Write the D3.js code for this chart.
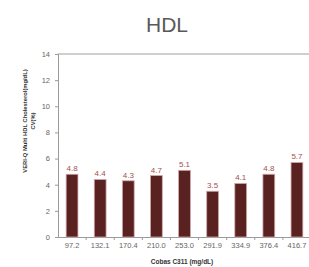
<!DOCTYPE html>
<html>
<head>
<meta charset="utf-8">
<script src="https://cdn.jsdelivr.net/npm/d3@7"></script>
<style>
  body { margin: 0; background: #fff; }
  svg { display: block; font-family: "Liberation Sans", Arial, sans-serif; }
</style>
</head>
<body>
<svg id="chart" width="309" height="267"></svg>
<script>
const categories = ['97.2', '132.1', '170.4', '210.0', '253.0', '291.9', '334.9', '376.4', '416.7']
const cvValues = [4.8, 4.4, 4.3, 4.7, 5.1, 3.5, 4.1, 4.8, 5.7]
const yTicks = [0, 2, 4, 6, 8, 10, 12, 14]

const svg = d3.select('#chart')
const margin = {top: 54, right: -2, bottom: 30, left: 58}
const width = +svg.attr('width')
const height = +svg.attr('height')

const x = d3.scaleBand()
  .domain(categories)
  .range([margin.left, width - margin.right])
  .paddingInner(0.58)
  .paddingOuter(0.29)

const y = d3.scaleLinear()
  .domain([0, 14])
  .range([height - margin.bottom, margin.top])

// title
svg.append('text')
  .attr('x', 167).attr('y', 32)
  .attr('text-anchor', 'middle')
  .attr('font-size', 21)
  .attr('fill', '#595959')
  .text('HDL')

// top border line at 14
svg.append('line')
  .attr('x1', margin.left).attr('x2', width)
  .attr('y1', y(14)).attr('y2', y(14))
  .attr('stroke', '#cfcfcf').attr('stroke-width', 2)

// y axis
const yAxis = svg.append('g')
  .attr('transform', `translate(${margin.left},0)`)
  .call(d3.axisLeft(y).tickValues(yTicks).tickSize(3).tickPadding(5))
yAxis.select('.domain').attr('stroke', '#9a9a9a')
yAxis.selectAll('.tick line').attr('stroke', '#9a9a9a')
yAxis.selectAll('.tick text').attr('font-size', 7.5).attr('fill', '#666')

// x axis
const xAxis = svg.append('g')
  .attr('transform', `translate(0,${y(0)})`)
  .call(d3.axisBottom(x).tickSize(0).tickPadding(6))
xAxis.select('.domain').attr('stroke', '#9a9a9a')
xAxis.selectAll('.tick text').attr('font-size', 7.5).attr('fill', '#666')

// small ticks between categories
const step = x.step()
svg.append('g')
  .selectAll('line')
  .data(categories.slice(1))
  .enter().append('line')
  .attr('x1', d => x(d) - (step - x.bandwidth()) / 2)
  .attr('x2', d => x(d) - (step - x.bandwidth()) / 2)
  .attr('y1', y(0)).attr('y2', y(0) + 3)
  .attr('stroke', '#9a9a9a')

// bars
svg.append('g')
  .selectAll('rect')
  .data(cvValues)
  .enter().append('rect')
  .attr('x', (d, i) => x(categories[i]))
  .attr('y', d => y(d))
  .attr('width', x.bandwidth())
  .attr('height', d => y(0) - y(d))
  .attr('fill', '#5a2121')
  .attr('stroke', '#cfa9a9')
  .attr('stroke-width', 0.8)

// value labels
svg.append('g')
  .selectAll('text')
  .data(cvValues)
  .enter().append('text')
  .attr('x', (d, i) => x(categories[i]) + x.bandwidth() / 2)
  .attr('y', d => y(d) - 3)
  .attr('text-anchor', 'middle')
  .attr('font-size', 8)
  .attr('fill', '#a3504b')
  .text(d => d.toFixed(1))

// axis titles
const yTitle = svg.append('text')
  .attr('transform', 'translate(27,121) rotate(-90)')
  .attr('text-anchor', 'middle')
  .attr('font-size', 5.8)
  .attr('font-weight', 'bold')
  .attr('fill', '#333')
yTitle.append('tspan').attr('x', 0).attr('dy', 0).text('VERI-Q Multi HDL Cholesterol(mg/dL)')
yTitle.append('tspan').attr('x', 0).attr('dy', '1.35em').text('CV(%)')

svg.append('text')
  .attr('x', 182).attr('y', 264)
  .attr('text-anchor', 'middle')
  .attr('font-size', 6.5)
  .attr('font-weight', 'bold')
  .attr('fill', '#333')
  .text('Cobas C311 (mg/dL)')
</script>
</body>
</html>
